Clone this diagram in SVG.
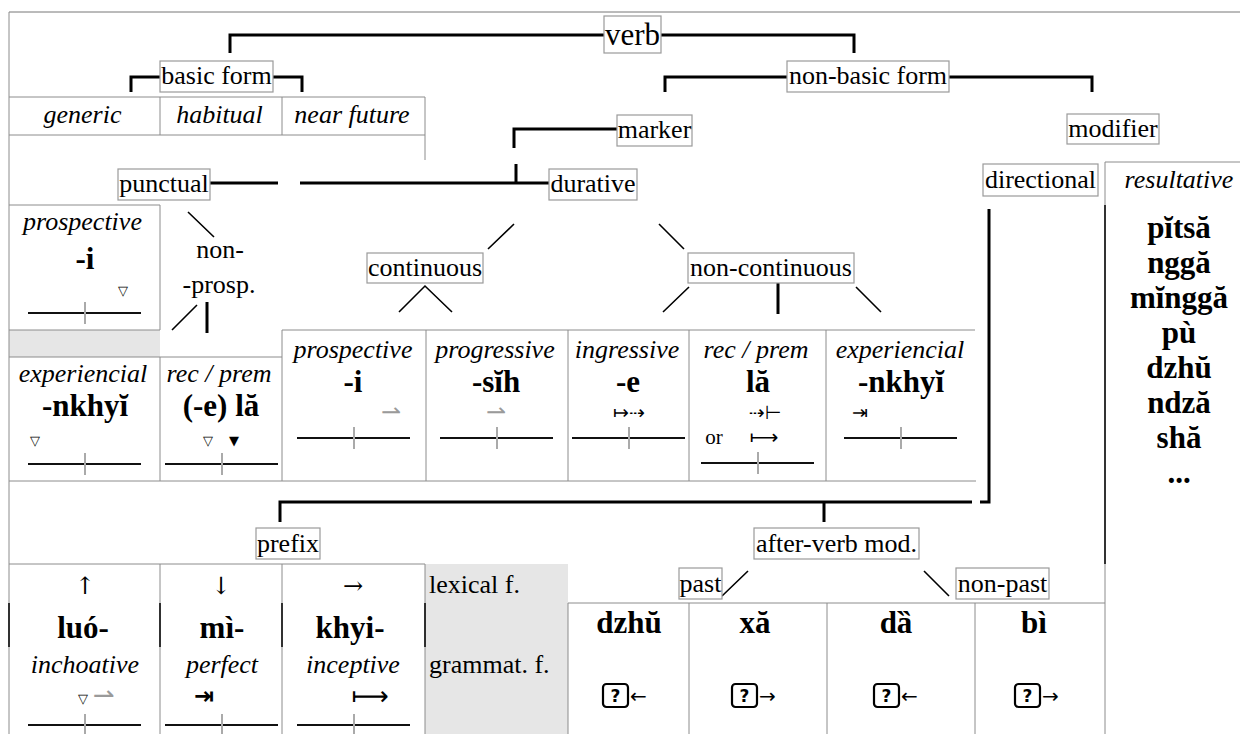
<svg xmlns="http://www.w3.org/2000/svg" xmlns:xlink="http://www.w3.org/1999/xlink" width="1240" height="734" viewBox="0 0 1240 734">
<style>
.t{font-family:"Liberation Serif","Times New Roman",serif;font-size:26px;text-anchor:middle;fill:#000}
.i{font-style:italic}
.b{font-weight:bold;font-size:31px}
.s{font-family:"DejaVu Sans",sans-serif;text-anchor:middle;fill:#000}
.ar{font-family:"DejaVu Serif","DejaVu Sans",serif;font-size:24px;fill:#000}
.g{fill:#9a9a9a}
.bx{fill:#fff;stroke:#9a9a9a;stroke-width:1.2}
.ln{stroke:#8c8c8c;stroke-width:1;fill:none}
.dk{stroke:#000;stroke-width:1.5;fill:none}
.br{stroke:#000;stroke-width:3;fill:none}
.dg{stroke:#000;stroke-width:1.6;fill:none}
.tl{stroke:#111;stroke-width:1.8}
.tk{stroke:#aaa;stroke-width:2}
.gray{fill:#e6e6e6}
</style>
<defs>
<g id="tml"><path class="tl" d="M-57,0 H56"/><path class="tk" d="M0,-11 V11"/></g>
<g id="tofu"><rect x="-12.5" y="-11.5" width="25" height="23" rx="3.5" fill="none" stroke="#000" stroke-width="2.2"/><text x="0" y="6.5" class="s" style="font-size:17px;font-weight:bold">?</text></g>
</defs>
<rect width="1240" height="734" fill="#fff"/>

<g id="tables">
<rect class="gray" x="9" y="330" width="151" height="27"/>
<rect class="gray" x="425" y="564" width="143" height="170"/>
<path class="ln" d="M9,12 H1240" style="stroke:#777"/>
<path class="ln" d="M9,12 V734"/>
<path class="ln" d="M9,97 H425 M9,135 H425 M160,97 V135 M282,97 V135 M425,97 V160"/>
<path class="ln" d="M9,205 H160 M160,205 V330 M9,330 H160 M9,357 H282 M160,357 V481 M282,330 V481"/>
<path class="ln" d="M282,330 H975 M426,330 V481 M568,330 V481 M689,330 V481 M826,330 V481 M9,481 H976"/>
<path class="ln" d="M1105,162 H1240 M1105,162 V734"/>
<path class="dk" d="M1105,205 V564"/>
<path class="ln" d="M9,564 H425 M160,564 V734 M282,564 V734 M425,564 V734"/>
<path class="dk" d="M9,603 V647 M160,603 V647 M282,603 V647 M425,603 V647"/>
<path class="ln" d="M568,603 H1105 M568,603 V734 M689,603 V734 M827,603 V734 M975,603 V734"/>
</g>

<g id="connectors">
<path class="br" d="M230,53 V35 H604 M661,35 H854 V53"/>
<path class="br" d="M131,92 V77 H160 M273,77 H302 V92"/>
<path class="br" d="M665,92 V77 H787 M949,77 H1092 V92"/>
<path class="br" d="M617,129 H514 V148"/>
<path class="br" d="M516,164 V183 M300,183 H549 M210,183 H278"/>
<path class="dg" d="M188,212 L214,237 M172,330 L197,305"/>
<path class="br" d="M207,302 V333"/>
<path class="dg" d="M488,249 L514,224 M659,224 L684,249"/>
<path class="dg" d="M399,312 L425,286 L452,312"/>
<path class="dg" d="M663,312 L689,287 M856,287 L881,312"/>
<path class="br" d="M778,283 V314"/>
<path class="br" d="M989,209 V502 H980 M972,502 H280 V522 M824,502 V522"/>
<path class="dg" d="M722,596 L748,571 M924,571 L949,596"/>
</g>

<g id="n-verb"><rect class="bx" x="604" y="16" width="57" height="37"/><text class="t" x="632.5" y="45" style="font-size:31px">verb</text></g>
<g id="n-basic"><rect class="bx" x="160" y="61" width="113" height="31"/><text class="t" x="216.5" y="84">basic form</text></g>
<g id="n-nonbasic"><rect class="bx" x="787" y="61" width="162" height="31"/><text class="t" x="868" y="84">non-basic form</text></g>
<g id="n-basic-cells">
<text class="t i" x="82.5" y="123">generic</text>
<text class="t i" x="219.5" y="123">habitual</text>
<text class="t i" x="352" y="123">near future</text>
</g>
<g id="n-marker"><rect class="bx" x="617" y="115" width="75" height="31"/><text class="t" x="654.5" y="138">marker</text></g>
<g id="n-modifier"><rect class="bx" x="1067" y="114" width="92" height="30"/><text class="t" x="1113" y="137">modifier</text></g>
<g id="n-punctual"><rect class="bx" x="118" y="169" width="92" height="31"/><text class="t" x="164" y="192">punctual</text></g>
<g id="n-durative"><rect class="bx" x="549" y="169" width="88" height="31"/><text class="t" x="593" y="192">durative</text></g>
<g id="n-directional"><rect class="bx" x="983" y="164" width="115" height="32"/><text class="t" x="1040.5" y="188">directional</text></g>
<g id="n-resultative">
<text class="t i" x="1179" y="188">resultative</text>
<text class="t b" x="1179" y="238">pĭtsă</text>
<text class="t b" x="1179" y="273">nggă</text>
<text class="t b" x="1179" y="308">mĭnggă</text>
<text class="t b" x="1179" y="343">pù</text>
<text class="t b" x="1179" y="378">dzhŭ</text>
<text class="t b" x="1179" y="413">ndză</text>
<text class="t b" x="1179" y="448">shă</text>
<text class="t b" x="1179" y="483">...</text>
</g>
<g id="n-continuous"><rect class="bx" x="367" y="253" width="116" height="30"/><text class="t" x="425" y="276">continuous</text></g>
<g id="n-noncontinuous"><rect class="bx" x="688" y="253" width="166" height="30"/><text class="t" x="771" y="276">non-continuous</text></g>

<g id="n-punct-prosp">
<text class="t i" x="82.5" y="230">prospective</text>
<text class="t b" x="85" y="269">-i</text>
<text class="s" x="123" y="295" style="font-size:13px">▽</text>
<use xlink:href="#tml" x="85" y="313"/>
</g>
<g id="n-nonprosp">
<text class="t" x="220" y="258">non-</text>
<text class="t" x="219" y="293">-prosp.</text>
</g>
<g id="n-punct-exp">
<text class="t i" x="83" y="382">experiencial</text>
<text class="t b" x="85" y="416">-nkhyĭ</text>
<text class="s" x="35" y="445" style="font-size:13px">▽</text>
<use xlink:href="#tml" x="85" y="464"/>
</g>
<g id="n-punct-rec">
<text class="t i" x="219" y="382">rec / prem</text>
<text class="t b" x="221" y="416">(-e) lă</text>
<text class="s" x="208" y="445" style="font-size:13px">▽</text>
<text class="s" x="234" y="445" style="font-size:13px">▼</text>
<use xlink:href="#tml" x="222" y="464"/>
</g>

<g id="n-dur-prosp">
<text class="t i" x="353" y="358">prospective</text>
<text class="t b" x="353" y="392">-i</text>
<text class="s g" x="391" y="420" style="font-size:24px">⇀</text>
<use xlink:href="#tml" x="354" y="438"/>
</g>
<g id="n-dur-prog">
<text class="t i" x="495" y="358">progressive</text>
<text class="t b" x="496" y="392">-sĭh</text>
<text class="s g" x="496" y="420" style="font-size:24px">⇀</text>
<use xlink:href="#tml" x="497" y="438"/>
</g>
<g id="n-dur-ingr">
<text class="t i" x="627" y="358">ingressive</text>
<text class="t b" x="628" y="392">-e</text>
<text class="s" x="629" y="419" style="font-size:19px">↦⇢</text>
<use xlink:href="#tml" x="629" y="438"/>
</g>
<g id="n-dur-rec">
<text class="t i" x="756" y="358">rec / prem</text>
<text class="t b" x="758" y="392">lă</text>
<text class="s" x="765" y="419" style="font-size:19px">⇢⊢</text>
<text class="t" x="714" y="444" style="font-size:21px">or</text>
<text class="s" x="764" y="444" style="font-size:20px">⟼</text>
<use xlink:href="#tml" x="758" y="463"/>
</g>
<g id="n-dur-exp">
<text class="t i" x="900" y="358">experiencial</text>
<text class="t b" x="901" y="392">-nkhyĭ</text>
<text class="s" x="860" y="419" style="font-size:19px">⇥</text>
<use xlink:href="#tml" x="901" y="438"/>
</g>

<g id="n-prefix"><rect class="bx" x="256" y="528" width="64" height="31"/><text class="t" x="288" y="552">prefix</text></g>
<g id="n-aftermod"><rect class="bx" x="754" y="528" width="165" height="31"/><text class="t" x="836.5" y="552">after-verb mod.</text></g>
<g id="n-past"><rect class="bx" x="679" y="568" width="43" height="31"/><text class="t" x="700.5" y="592">past</text></g>
<g id="n-nonpast"><rect class="bx" x="956" y="568" width="93" height="31"/><text class="t" x="1002.5" y="592">non-past</text></g>

<g id="n-pref-luo">
<text class="ar" x="85" y="594" text-anchor="middle">↑</text>
<text class="t b" x="83" y="638">luó-</text>
<text class="t i" x="85" y="673">inchoative</text>
<text class="s" x="83" y="703" style="font-size:13px">▽</text>
<text class="s g" x="104" y="704" style="font-size:26px">⇀</text>
<use xlink:href="#tml" x="85" y="725"/>
</g>
<g id="n-pref-mi">
<text class="ar" x="221" y="594" text-anchor="middle">↓</text>
<text class="t b" x="222" y="638">mì-</text>
<text class="t i" x="222" y="673">perfect</text>
<text class="s" x="204" y="704" style="font-size:24px;font-weight:bold">⇥</text>
<use xlink:href="#tml" x="222" y="725"/>
</g>
<g id="n-pref-khyi">
<text class="ar" x="353" y="594" text-anchor="middle">→</text>
<text class="t b" x="350" y="638">khyi-</text>
<text class="t i" x="353" y="673">inceptive</text>
<text class="s" x="370" y="705" style="font-size:26px">⟼</text>
<use xlink:href="#tml" x="354" y="725"/>
</g>
<g id="n-lexgram">
<text class="t" x="429" y="593" style="text-anchor:start">lexical f.</text>
<text class="t" x="429" y="673" style="text-anchor:start">grammat. f.</text>
</g>

<g id="n-avm-dzhu">
<text class="t b" x="629" y="633">dzhŭ</text>
<use xlink:href="#tofu" x="615.5" y="695.5"/>
<text class="s" x="630" y="703" style="text-anchor:start;font-size:20px">←</text>
</g>
<g id="n-avm-xa">
<text class="t b" x="755" y="633">xă</text>
<use xlink:href="#tofu" x="744.5" y="695.5"/>
<text class="s" x="759" y="703" style="text-anchor:start;font-size:20px">→</text>
</g>
<g id="n-avm-da">
<text class="t b" x="896" y="633">dȁ</text>
<use xlink:href="#tofu" x="886.5" y="695.5"/>
<text class="s" x="901" y="703" style="text-anchor:start;font-size:20px">←</text>
</g>
<g id="n-avm-bi">
<text class="t b" x="1034" y="633">bì</text>
<use xlink:href="#tofu" x="1027.5" y="695.5"/>
<text class="s" x="1042" y="703" style="text-anchor:start;font-size:20px">→</text>
</g>
</svg>
